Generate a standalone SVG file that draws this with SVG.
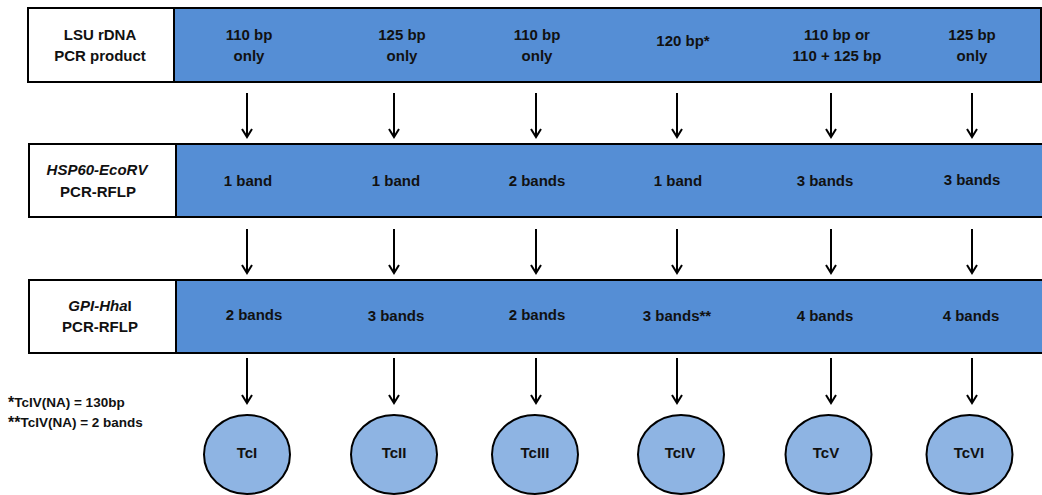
<svg xmlns="http://www.w3.org/2000/svg" width="1042" height="495" viewBox="0 0 1042 495">
<style>
  text { font-family: "Liberation Sans", Arial, sans-serif; font-weight: bold; font-size: 15px; fill: #111; text-anchor: middle; }
  .lab { fill: #ffffff; stroke: #000; stroke-width: 2; }
  .band { fill: #558ED5; stroke: #000; stroke-width: 2; }
  .node { fill: #8EB4E3; stroke: #000; stroke-width: 2; }
  .arr { stroke: #000; stroke-width: 2; fill: none; marker-end: url(#ah); }
  .fn { font-size: 13.5px; text-anchor: start; }
</style>
<defs>
  <marker id="ah" viewBox="0 0 12 12" refX="10" refY="6" markerWidth="12" markerHeight="12" markerUnits="userSpaceOnUse" orient="auto">
    <path d="M2,1 L10,6 L2,11" fill="none" stroke="#000" stroke-width="2"/>
  </marker>
</defs>
<rect width="1042" height="495" fill="#ffffff"/>

<g id="row1">
  <rect class="band" x="174" y="8" width="867" height="74"/>
  <rect class="lab" x="28" y="8" width="146" height="74"/>
  <text x="100" y="40">LSU rDNA</text>
  <text x="100" y="61">PCR product</text>
  <text x="249" y="40">110 bp</text><text x="249" y="61">only</text>
  <text x="402" y="40">125 bp</text><text x="402" y="61">only</text>
  <text x="537" y="40">110 bp</text><text x="537" y="61">only</text>
  <text x="683" y="46">120 bp*</text>
  <text x="837" y="40">110 bp or</text><text x="837" y="61">110 + 125 bp</text>
  <text x="972" y="40">125 bp</text><text x="972" y="61">only</text>
</g>

<g id="row2">
  <rect class="band" x="176" y="144" width="870" height="73"/>
  <rect class="lab" x="29" y="144" width="147" height="73"/>
  <text x="97" y="175" font-style="italic">HSP60-EcoRV</text>
  <text x="98" y="197">PCR-RFLP</text>
  <text x="248" y="186">1 band</text>
  <text x="396" y="186">1 band</text>
  <text x="537" y="186">2 bands</text>
  <text x="678" y="186">1 band</text>
  <text x="825" y="186">3 bands</text>
  <text x="972" y="185">3 bands</text>
</g>

<g id="row3">
  <rect class="band" x="176" y="280" width="870" height="73"/>
  <rect class="lab" x="29" y="280" width="147" height="73"/>
  <text x="100" y="311"><tspan font-style="italic">GPI-Hha</tspan>I</text>
  <text x="100" y="332">PCR-RFLP</text>
  <text x="254" y="320">2 bands</text>
  <text x="396" y="321">3 bands</text>
  <text x="537" y="320">2 bands</text>
  <text x="677" y="321">3 bands**</text>
  <text x="825" y="321">4 bands</text>
  <text x="971" y="321">4 bands</text>
</g>

<g id="connectors">
  <line class="arr" x1="247" y1="93" x2="247" y2="137"/>
  <line class="arr" x1="394" y1="93" x2="394" y2="137"/>
  <line class="arr" x1="536" y1="93" x2="536" y2="137"/>
  <line class="arr" x1="677" y1="93" x2="677" y2="137"/>
  <line class="arr" x1="831" y1="93" x2="831" y2="137"/>
  <line class="arr" x1="972" y1="93" x2="972" y2="137"/>

  <line class="arr" x1="247" y1="229" x2="247" y2="273"/>
  <line class="arr" x1="394" y1="229" x2="394" y2="273"/>
  <line class="arr" x1="536" y1="229" x2="536" y2="273"/>
  <line class="arr" x1="677" y1="229" x2="677" y2="273"/>
  <line class="arr" x1="831" y1="229" x2="831" y2="273"/>
  <line class="arr" x1="972" y1="229" x2="972" y2="273"/>

  <line class="arr" x1="247" y1="358" x2="247" y2="403"/>
  <line class="arr" x1="394" y1="358" x2="394" y2="403"/>
  <line class="arr" x1="536" y1="358" x2="536" y2="403"/>
  <line class="arr" x1="677" y1="358" x2="677" y2="403"/>
  <line class="arr" x1="831" y1="358" x2="831" y2="403"/>
  <line class="arr" x1="972" y1="358" x2="972" y2="403"/>
</g>

<g id="TcI"><ellipse class="node" cx="247" cy="454.5" rx="43" ry="39.5"/><text x="247" y="458">TcI</text></g>
<g id="TcII"><ellipse class="node" cx="394" cy="454.5" rx="43" ry="39.5"/><text x="394" y="458">TcII</text></g>
<g id="TcIII"><ellipse class="node" cx="535" cy="454.5" rx="43" ry="39.5"/><text x="535" y="458">TcIII</text></g>
<g id="TcIV"><ellipse class="node" cx="681" cy="454.5" rx="43" ry="39.5"/><text x="680" y="458">TcIV</text></g>
<g id="TcV"><ellipse class="node" cx="828.5" cy="454.5" rx="43" ry="39.5"/><text x="826" y="458">TcV</text></g>
<g id="TcVI"><ellipse class="node" cx="969.5" cy="454.5" rx="43" ry="39.5"/><text x="969" y="458">TcVI</text></g>

<g id="footnotes">
  <text class="fn" x="8" y="407"><tspan font-size="16" dy="1">*</tspan><tspan dy="-1">TcIV(NA) = 130bp</tspan></text>
  <text class="fn" x="8" y="427"><tspan font-size="16" dy="1">**</tspan><tspan dy="-1">TcIV(NA) = 2 bands</tspan></text>
</g>
</svg>
